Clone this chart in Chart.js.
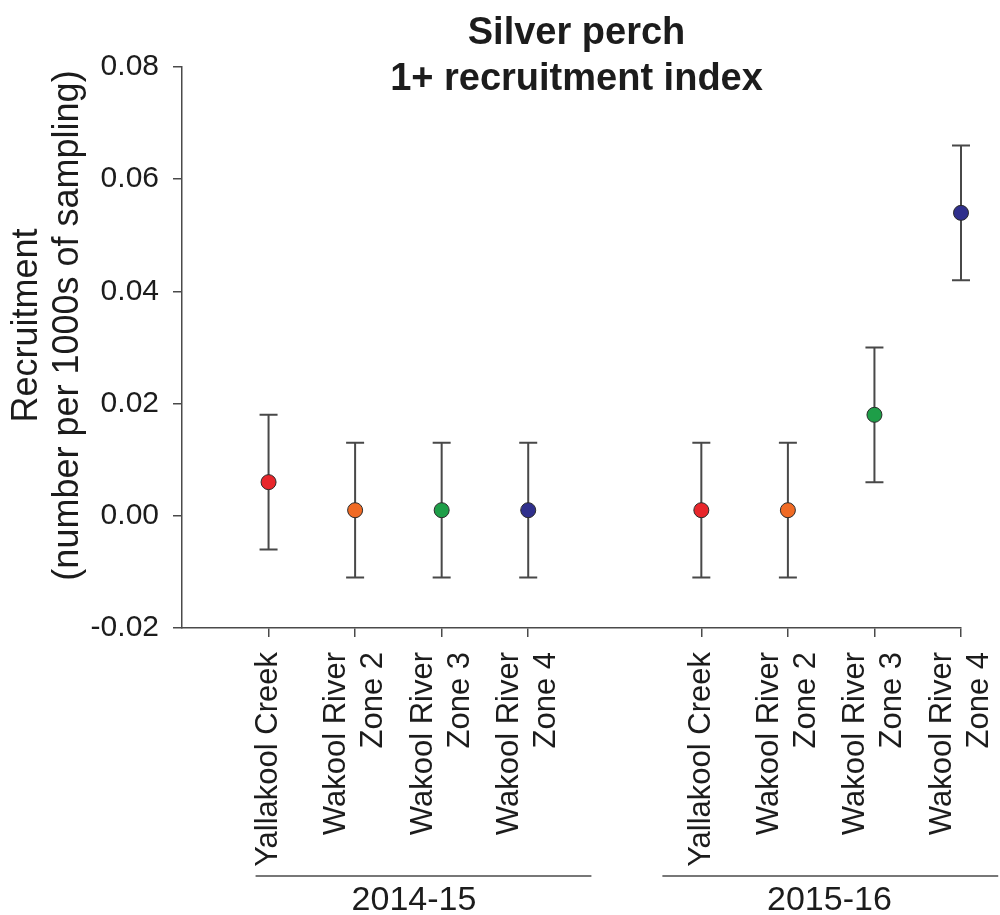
<!DOCTYPE html>
<html>
<head>
<meta charset="utf-8">
<script src="https://cdn.jsdelivr.net/npm/chart.js@4/dist/chart.umd.min.js"></script>
<style>
  html, body { margin: 0; padding: 0; background: #fff; }
  #wrap { width: 1000px; height: 915px; position: relative; }
</style>
</head>
<body>
<div id="wrap"><canvas id="perchChart"></canvas></div>
<script>
// chart data
const siteLabels = [
  ["Yallakool Creek"], ["Wakool River", "Zone 2"], ["Wakool River", "Zone 3"], ["Wakool River", "Zone 4"],
  ["Yallakool Creek"], ["Wakool River", "Zone 2"], ["Wakool River", "Zone 3"], ["Wakool River", "Zone 4"],
];
const sitePositions = [1, 2, 3, 4, 6, 7, 8, 9];
const recruitment = [0.006, 0.001, 0.001, 0.001, 0.001, 0.001, 0.018, 0.054];
const errors = [0.012, 0.012, 0.012, 0.012, 0.012, 0.012, 0.012, 0.012];
const siteColors = ["#e8262b", "#f06a24", "#1e9e48", "#2f2f8c", "#e8262b", "#f06a24", "#1e9e48", "#2f2f8c"];
const yTicks = [-0.02, 0.00, 0.02, 0.04, 0.06, 0.08];

const groupNames = ["2014-15", "2015-16"];
const groupSpans = [[0.85, 4.73], [5.55, 9.43]];
const groupCenters = [2.68, 7.48];

const FONT = "'Liberation Sans', Arial, sans-serif";
const AXIS = "#4a4a4a";
const TEXT = "#1c1c1c";

// error bars under the points
const errorBars = {
  id: "errorBars",
  beforeDatasetsDraw(chart) {
    const { ctx, scales: { x, y } } = chart;
    ctx.save();
    ctx.strokeStyle = "#484848";
    ctx.lineWidth = 2;
    recruitment.forEach((v, i) => {
      const px = x.getPixelForValue(sitePositions[i]);
      const top = y.getPixelForValue(v + errors[i]);
      const bot = y.getPixelForValue(v - errors[i]);
      ctx.beginPath();
      ctx.moveTo(px, top); ctx.lineTo(px, bot);
      ctx.moveTo(px - 9, top); ctx.lineTo(px + 9, top);
      ctx.moveTo(px - 9, bot); ctx.lineTo(px + 9, bot);
      ctx.stroke();
    });
    ctx.restore();
  },
};

// title, site labels, y title, year groups
const extraText = {
  id: "extraText",
  afterDraw(chart) {
    const { ctx, chartArea, scales: { x } } = chart;
    ctx.save();
    ctx.fillStyle = TEXT;
    ctx.textAlign = "center";
    ctx.textBaseline = "alphabetic";
    const cx = (chartArea.left + chartArea.right) / 2 + 5;
    ctx.font = "bold 38px " + FONT;
    ctx.fillText("Silver perch", cx, 44);
    ctx.fillText("1+ recruitment index", cx, 90);

    // site labels, rotated and centred on each tick
    ctx.font = "31px " + FONT;
    const lh = 37;
    siteLabels.forEach((lines, i) => {
      const px = x.getPixelForValue(sitePositions[i]);
      lines.forEach((line, j) => {
        ctx.save();
        ctx.translate(px + (j - (lines.length - 1) / 2) * lh, chartArea.bottom + 24);
        ctx.rotate(-Math.PI / 2);
        ctx.textAlign = "right";
        ctx.textBaseline = "middle";
        ctx.fillText(line, 0, 0);
        ctx.restore();
      });
    });

    // y axis title
    ctx.save();
    ctx.translate(0, (chartArea.top + chartArea.bottom) / 2 - 22);
    ctx.rotate(-Math.PI / 2);
    ctx.font = "36px " + FONT;
    ctx.textBaseline = "middle";
    ctx.fillText("Recruitment", 0, 27);
    ctx.fillText("(number per 1000s of sampling)", 0, 68);
    ctx.restore();

    // year groups
    ctx.strokeStyle = AXIS;
    ctx.lineWidth = 1.5;
    ctx.font = "34px " + FONT;
    groupNames.forEach((name, i) => {
      const x0 = x.getPixelForValue(groupSpans[i][0]);
      const x1 = x.getPixelForValue(groupSpans[i][1]);
      ctx.beginPath();
      ctx.moveTo(x0, 876); ctx.lineTo(x1, 876);
      ctx.stroke();
      ctx.fillText(name, x.getPixelForValue(groupCenters[i]), 910);
    });
    ctx.restore();
  },
};

new Chart(document.getElementById("perchChart"), {
  type: "scatter",
  data: {
    datasets: [{
      data: sitePositions.map((p, i) => ({ x: p, y: recruitment[i] })),
      pointBackgroundColor: siteColors,
      pointBorderColor: "#2a2a2a",
      pointBorderWidth: 1,
      pointRadius: 7.5,
      pointHoverRadius: 7.5,
      clip: false,
    }],
  },
  options: {
    responsive: true,
    maintainAspectRatio: false,
    animation: false,
    layout: { padding: { left: 0, right: 39, top: 67, bottom: 0 } },
    plugins: {
      legend: { display: false },
      tooltip: { enabled: false },
      title: { display: false },
    },
    scales: {
      x: {
        type: "linear",
        min: 0,
        max: 9,
        border: { display: true, color: AXIS, width: 1.5 },
        grid: { display: true, drawOnChartArea: false, drawTicks: true, tickLength: 9, color: AXIS, lineWidth: 1.5 },
        afterBuildTicks: (scale) => {
          scale.ticks = sitePositions.map((v) => ({ value: v }));
        },
        afterFit: (scale) => {
          scale.height = 287;
          scale.paddingLeft = 0;
          scale.paddingRight = 0;
        },
        ticks: { display: false, autoSkip: false },
      },
      y: {
        min: -0.02,
        max: 0.08,
        border: { display: true, color: AXIS, width: 1.5 },
        grid: { display: true, drawOnChartArea: false, drawTicks: true, tickLength: 9, color: AXIS, lineWidth: 1.5 },
        afterBuildTicks: (scale) => {
          scale.ticks = yTicks.map((v) => ({ value: v }));
        },
        afterFit: (scale) => {
          scale.width = 182;
          scale.paddingTop = 0;
          scale.paddingBottom = 0;
        },
        ticks: {
          padding: 14,
          color: TEXT,
          font: { family: FONT, size: 30 },
          callback: (value) => value.toFixed(2),
        },
      },
    },
  },
  plugins: [errorBars, extraText],
});
</script>
</body>
</html>
